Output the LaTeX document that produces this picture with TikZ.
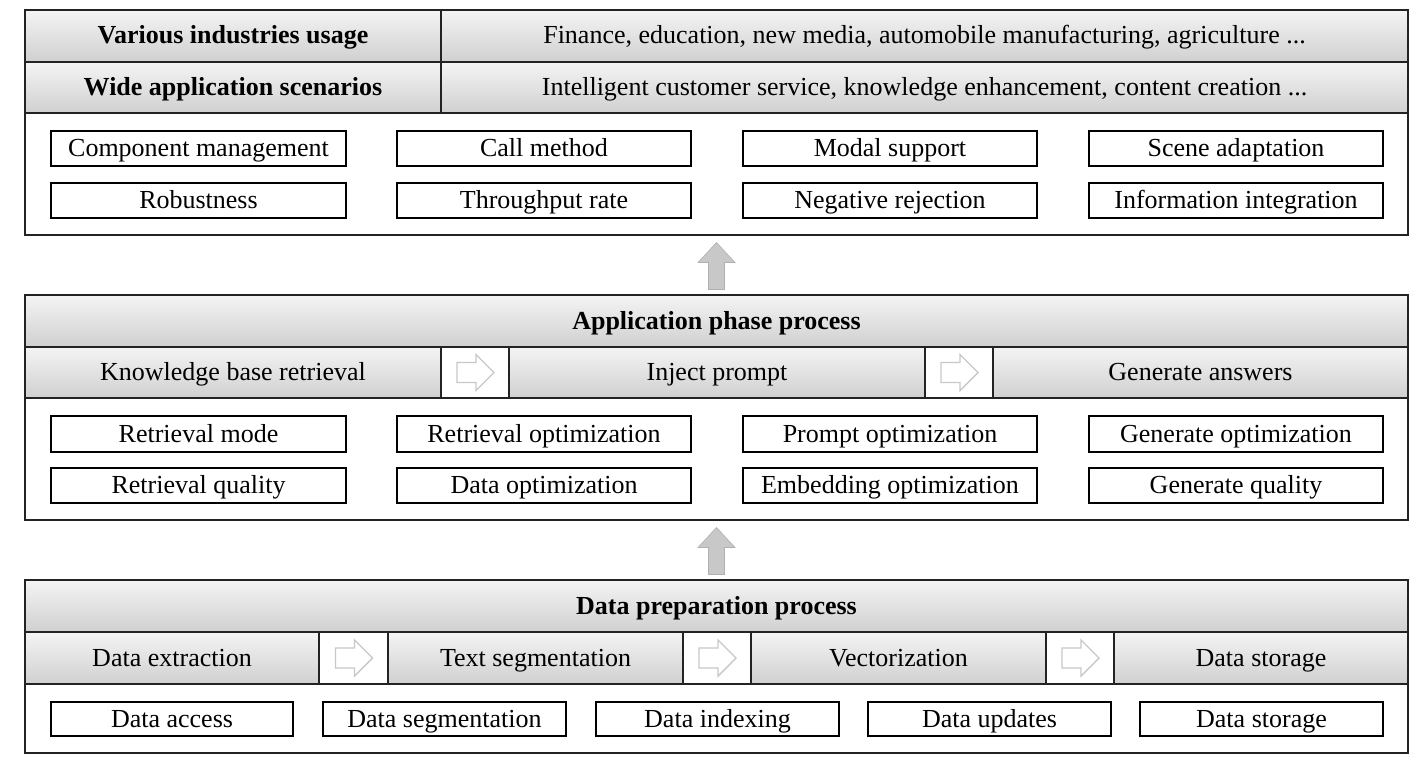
\documentclass[tikz,border=0pt]{standalone}
\usepackage{fontspec}
\setmainfont{Liberation Serif}
\usetikzlibrary{calc}
\definecolor{hdtop}{RGB}{244,244,244}
\definecolor{hdbot}{RGB}{208,208,208}
\definecolor{arrowgray}{RGB}{200,200,200}
\definecolor{lineclr}{RGB}{35,35,35}
\newcommand{\cellnode}[7]{%
  \pgfmathsetmacro\cw{#4-#2}\pgfmathsetmacro\ch{#5-#3}%
  \pgfmathsetmacro\cx{(#2+#4)/2}\pgfmathsetmacro\cy{(#3+#5)/2}%
  \node[#6, minimum width=\cw pt, minimum height=\ch pt] (#1) at (\cx,\cy) {#7};}
\newcommand{\rightarr}[1]{%
  \draw[rarrow, shift={(#1.center)}] (-18,-10) -- (1,-10) -- (1,-18) -- (19,0) -- (1,18) -- (1,10) -- (-18,10) -- cycle;}
\begin{document}
\begin{tikzpicture}[x=1pt, y=-1pt,
  every node/.style={font=\fontsize{26}{30}\selectfont, inner sep=0pt, outer sep=0pt, text height=16pt, text depth=0pt},
  hdr/.style={draw=lineclr, line width=1.3pt, top color=hdtop, bottom color=hdbot},
  hdrb/.style={hdr, font=\fontsize{26}{30}\selectfont\bfseries},
  arrcell/.style={draw=lineclr, line width=1.3pt, fill=white},
  itembox/.style={draw=black, line width=1.2pt, fill=white},
  panel/.style={draw=lineclr, line width=1.6pt, fill=white},
  panelline/.style={draw=lineclr, line width=1.6pt},
  rarrow/.style={draw=arrowgray, line width=1.4pt, fill=white, line join=miter},
  uarrow/.style={fill=arrowgray, draw=arrowgray!88!black, line width=0.6pt}]
\useasboundingbox (0,0) rectangle (1422,760);
\fill[white] (0,0) rectangle (1422,760);

% ---------------- Top panel ----------------
\cellnode{topbox}{25}{10}{1408}{235}{panel}{}
\cellnode{h1l}{25}{10}{441}{62}{hdrb}{Various industries usage}
\cellnode{h1r}{441}{10}{1408}{62}{hdr}{Finance, education, new media, automobile manufacturing, agriculture ...}
\cellnode{h2l}{25}{62}{441}{113}{hdrb}{Wide application scenarios}
\cellnode{h2r}{441}{62}{1408}{113}{hdr}{Intelligent customer service, knowledge enhancement, content creation ...}
\cellnode{t11}{51}{131}{346}{166}{itembox}{Component management}
\cellnode{t12}{397}{131}{691}{166}{itembox}{Call method}
\cellnode{t13}{743}{131}{1037}{166}{itembox}{Modal support}
\cellnode{t14}{1089}{131}{1383}{166}{itembox}{Scene adaptation}
\cellnode{t21}{51}{183}{346}{218}{itembox}{Robustness}
\cellnode{t22}{397}{183}{691}{218}{itembox}{Throughput rate}
\cellnode{t23}{743}{183}{1037}{218}{itembox}{Negative rejection}
\cellnode{t24}{1089}{183}{1383}{218}{itembox}{Information integration}
\draw[panelline] (topbox.north west) rectangle (topbox.south east);

% ---------------- Middle panel ----------------
\cellnode{midbox}{25}{295}{1408}{520}{panel}{}
\cellnode{mhdr}{25}{295}{1408}{347}{hdrb}{Application phase process}
\cellnode{m1}{25}{347}{441}{398}{hdr}{Knowledge base retrieval}
\cellnode{ma1}{441}{347}{509}{398}{arrcell}{}
\cellnode{m2}{509}{347}{925}{398}{hdr}{Inject prompt}
\cellnode{ma2}{925}{347}{993}{398}{arrcell}{}
\cellnode{m3}{993}{347}{1408}{398}{hdr}{Generate answers}
\rightarr{ma1}
\rightarr{ma2}
\cellnode{b11}{51}{416}{346}{452}{itembox}{Retrieval mode}
\cellnode{b12}{397}{416}{691}{452}{itembox}{Retrieval optimization}
\cellnode{b13}{743}{416}{1037}{452}{itembox}{Prompt optimization}
\cellnode{b14}{1089}{416}{1383}{452}{itembox}{Generate optimization}
\cellnode{b21}{51}{468}{346}{503}{itembox}{Retrieval quality}
\cellnode{b22}{397}{468}{691}{503}{itembox}{Data optimization}
\cellnode{b23}{743}{468}{1037}{503}{itembox}{Embedding optimization}
\cellnode{b24}{1089}{468}{1383}{503}{itembox}{Generate quality}
\draw[panelline] (midbox.north west) rectangle (midbox.south east);

% ---------------- Bottom panel ----------------
\cellnode{botbox}{25}{580}{1408}{753}{panel}{}
\cellnode{bhdr}{25}{580}{1408}{632}{hdrb}{Data preparation process}
\cellnode{p1}{25}{632}{319}{684}{hdr}{Data extraction}
\cellnode{pa1}{319}{632}{388}{684}{arrcell}{}
\cellnode{p2}{388}{632}{683}{684}{hdr}{Text segmentation}
\cellnode{pa2}{683}{632}{751}{684}{arrcell}{}
\cellnode{p3}{751}{632}{1046}{684}{hdr}{Vectorization}
\cellnode{pa3}{1046}{632}{1114}{684}{arrcell}{}
\cellnode{p4}{1114}{632}{1408}{684}{hdr}{Data storage}
\rightarr{pa1}
\rightarr{pa2}
\rightarr{pa3}
\cellnode{d1}{51}{702}{293}{736}{itembox}{Data access}
\cellnode{d2}{323}{702}{566}{736}{itembox}{Data segmentation}
\cellnode{d3}{596}{702}{839}{736}{itembox}{Data indexing}
\cellnode{d4}{868}{702}{1111}{736}{itembox}{Data updates}
\cellnode{d5}{1140}{702}{1383}{736}{itembox}{Data storage}
\draw[panelline] (botbox.north west) rectangle (botbox.south east);

% ---------------- Up arrows ----------------
\coordinate (u1) at ($(topbox.south)!0.5!(midbox.north)$);
\coordinate (u2) at ($(midbox.south)!0.5!(botbox.north)$);
\filldraw[uarrow, shift={(u1)}] (0,-22.5) -- (18.5,-2.5) -- (8,-2.5) -- (8,24.5) -- (-8,24.5) -- (-8,-2.5) -- (-18.5,-2.5) -- cycle;
\filldraw[uarrow, shift={(u2)}] (0,-22.5) -- (18.5,-2.5) -- (8,-2.5) -- (8,24.5) -- (-8,24.5) -- (-8,-2.5) -- (-18.5,-2.5) -- cycle;
\end{tikzpicture}
\end{document}
